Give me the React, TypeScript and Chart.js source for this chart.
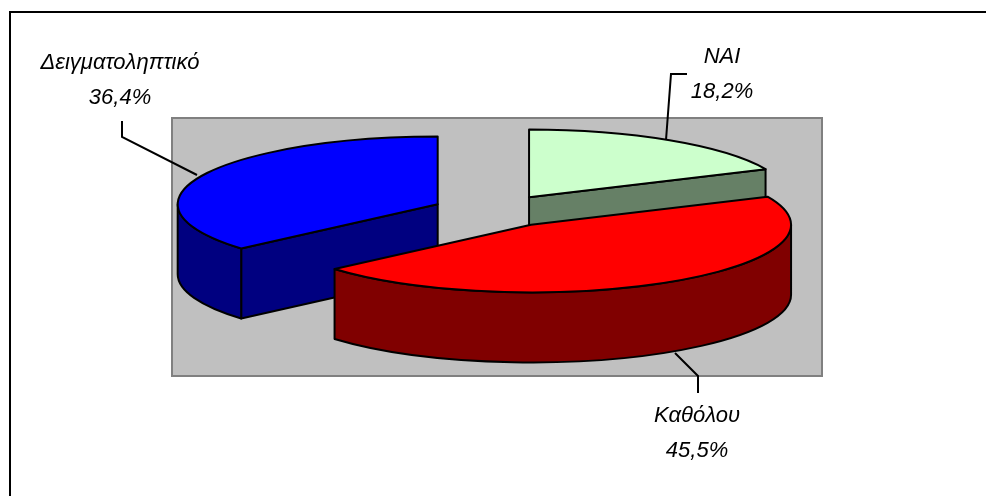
import React, { useEffect, useRef } from "react";
import { Chart, registerables } from "chart.js";

Chart.register(...registerables);

const categories = ["NAI", "Καθόλου", "Δειγματοληπτικό"];
const shares = [18.2, 45.5, 36.4];
const topColors = ["#CCFFCC", "#FF0000", "#0000FF"];
const sideColors = ["#668066", "#800000", "#000080"];
const paintOrder = [2, 0, 1];

const SQUASH = 0.26;
const DEPTH = 70;
const RADIUS = 260;
const OFFSET = 63;
const LINE = 2;
const perspectiveShift = [0, 2, 0];

const labelBoxes = [
  { x: 722, y: 57, leader: [[687, 74], [671, 74], [666, 140]] },
  { x: 697, y: 416, leader: [[698, 393], [698, 376], [675, 353]] },
  { x: 120, y: 63, leader: [[122, 121], [122, 137], [197, 175]] },
];

const pie3d = {
  id: "pie3d",
  beforeDatasetsDraw(chart: any) {
    const { ctx } = chart;
    ctx.save();
    ctx.fillStyle = "#C0C0C0";
    ctx.strokeStyle = "#808080";
    ctx.lineWidth = 2;
    ctx.fillRect(172, 118, 650, 258);
    ctx.strokeRect(172, 118, 650, 258);
    ctx.restore();
  },
  beforeDatasetDraw(chart: any, args: any) {
    const { ctx } = chart;
    const arcs = args.meta.data;
    ctx.save();
    ctx.lineWidth = LINE;
    ctx.strokeStyle = "#000";
    ctx.lineJoin = "round";
    paintOrder.forEach((i) => {
      const a = arcs[i];
      const { x, y, startAngle: s, endAngle: e, outerRadius: r } = a;
      const mid = (s + e) / 2;
      const cx = x + Math.cos(mid) * OFFSET + perspectiveShift[i];
      const cy = y + Math.sin(mid) * OFFSET * SQUASH;
      const ry = r * SQUASH;
      const px = (t: number) => cx + Math.cos(t) * r;
      const py = (t: number) => cy + Math.sin(t) * ry;
      ctx.fillStyle = sideColors[i];
      const face = (t: number) => {
        ctx.beginPath();
        ctx.moveTo(cx, cy);
        ctx.lineTo(px(t), py(t));
        ctx.lineTo(px(t), py(t) + DEPTH);
        ctx.lineTo(cx, cy + DEPTH);
        ctx.closePath();
        ctx.fill();
        ctx.stroke();
      };
      if (-Math.cos(s) > 1e-6) face(s);
      if (Math.cos(e) > 1e-6) face(e);
      const twoPi = Math.PI * 2;
      for (const k of [-1, 0, 1]) {
        const a0 = Math.max(s, k * twoPi);
        const a1 = Math.min(e, k * twoPi + Math.PI);
        if (a1 > a0) {
          ctx.beginPath();
          ctx.ellipse(cx, cy, r, ry, 0, a0, a1);
          ctx.lineTo(px(a1), py(a1) + DEPTH);
          ctx.ellipse(cx, cy + DEPTH, r, ry, 0, a1, a0, true);
          ctx.closePath();
          ctx.fill();
          ctx.stroke();
        }
      }
      ctx.fillStyle = topColors[i];
      ctx.beginPath();
      ctx.moveTo(cx, cy);
      ctx.ellipse(cx, cy, r, ry, 0, s, e);
      ctx.closePath();
      ctx.fill();
      ctx.stroke();
    });
    ctx.restore();
    return false;
  },
  afterDraw(chart: any) {
    const { ctx } = chart;
    ctx.save();
    ctx.strokeStyle = "#000";
    ctx.lineWidth = 2;
    ctx.beginPath();
    ctx.moveTo(10, 496);
    ctx.lineTo(10, 12);
    ctx.lineTo(986, 12);
    ctx.stroke();
    labelBoxes.forEach((b) => {
      ctx.beginPath();
      b.leader.forEach(([x, y], n) => (n ? ctx.lineTo(x, y) : ctx.moveTo(x, y)));
      ctx.stroke();
    });
    ctx.fillStyle = "#000";
    ctx.font = "italic 22px 'Liberation Sans'";
    ctx.textAlign = "center";
    ctx.textBaseline = "middle";
    categories.forEach((c, i) => {
      const b = labelBoxes[i];
      ctx.fillText(c, b.x, b.y);
      ctx.fillText(shares[i].toFixed(1).replace(".", ",") + "%", b.x, b.y + 35);
    });
    ctx.restore();
  },
};

export default function App() {
  const ref = useRef<HTMLCanvasElement>(null);
  useEffect(() => {
    const chart = new Chart(ref.current as HTMLCanvasElement, {
      type: "pie",
      data: {
        labels: categories,
        datasets: [
          {
            data: shares,
            backgroundColor: topColors,
            offset: OFFSET,
            radius: RADIUS,
            clip: false,
          } as any,
        ],
      },
      options: {
        animation: false,
        responsive: false,
        maintainAspectRatio: false,
        layout: { padding: { left: 4, bottom: 74 } },
        plugins: { legend: { display: false }, tooltip: { enabled: false } },
      },
      plugins: [pie3d],
    } as any);
    return () => chart.destroy();
  }, []);
  return (
    <div style={{ position: "absolute", left: 0, top: 0, width: 986, height: 496, background: "#fff" }}>
      <canvas ref={ref} width={986} height={496} style={{ display: "block" }} />
    </div>
  );
}
